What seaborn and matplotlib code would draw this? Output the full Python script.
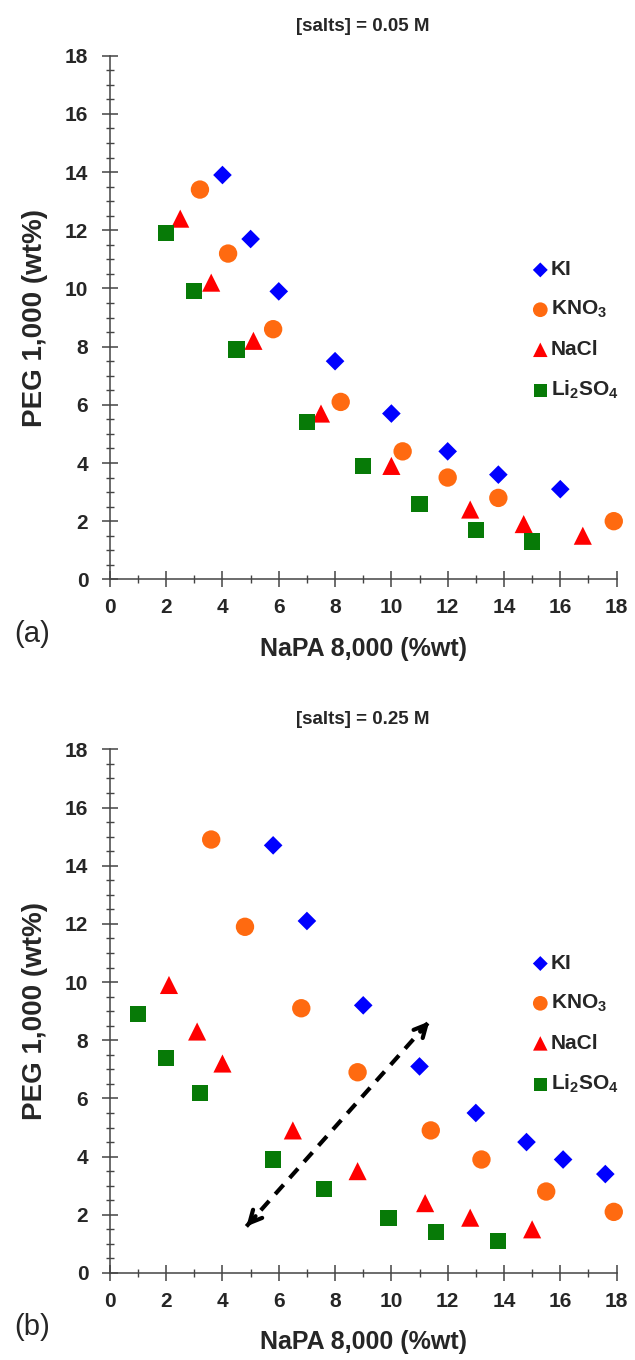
import matplotlib
matplotlib.use("Agg")
import matplotlib.pyplot as plt
from matplotlib.ticker import MultipleLocator
import pandas as pd
import seaborn as sns

# data (NaPA %wt, PEG %wt)
salts = ["KI", "KNO3", "NaCl", "Li2SO4"]
salt_labels = ["KI", "KNO$_3$", "NaCl", "Li$_2$SO$_4$"]

a_ki_x = [4, 5, 6, 8, 10, 12, 13.8, 16]
a_ki_y = [13.9, 11.7, 9.9, 7.5, 5.7, 4.4, 3.6, 3.1]
a_kno3_x = [3.2, 4.2, 5.8, 8.2, 10.4, 12, 13.8, 17.9]
a_kno3_y = [13.4, 11.2, 8.6, 6.1, 4.4, 3.5, 2.8, 2.0]
a_nacl_x = [2.5, 3.6, 5.1, 7.5, 10, 12.8, 14.7, 16.8]
a_nacl_y = [12.4, 10.2, 8.2, 5.7, 3.9, 2.4, 1.9, 1.5]
a_li_x = [2, 3, 4.5, 7, 9, 11, 13, 15]
a_li_y = [11.9, 9.9, 7.9, 5.4, 3.9, 2.6, 1.7, 1.3]

b_ki_x = [5.8, 7, 9, 11, 13, 14.8, 16.1, 17.6]
b_ki_y = [14.7, 12.1, 9.2, 7.1, 5.5, 4.5, 3.9, 3.4]
b_kno3_x = [3.6, 4.8, 6.8, 8.8, 11.4, 13.2, 15.5, 17.9]
b_kno3_y = [14.9, 11.9, 9.1, 6.9, 4.9, 3.9, 2.8, 2.1]
b_nacl_x = [2.1, 3.1, 4, 6.5, 8.8, 11.2, 12.8, 15]
b_nacl_y = [9.9, 8.3, 7.2, 4.9, 3.5, 2.4, 1.9, 1.5]
b_li_x = [1, 2, 3.2, 5.8, 7.6, 9.9, 11.6, 13.8]
b_li_y = [8.9, 7.4, 6.2, 3.9, 2.9, 1.9, 1.4, 1.1]

# double arrow in panel (b)
arrow_start = (4.85, 1.6)
arrow_end = (11.35, 8.65)

titles = ["[salts] = 0.05 M", "[salts] = 0.25 M"]
panel_tags = ["(a)", "(b)"]

colors = {"KI": "#0000FF", "KNO3": "#FF6A10", "NaCl": "#FF0000", "Li2SO4": "#077A07"}
markers = {"KI": "D", "KNO3": "o", "NaCl": "^", "Li2SO4": "s"}
sizes = {"KI": 90, "KNO3": 175, "NaCl": 170, "Li2SO4": 135}


def make_df(xs, ys):
    rows = []
    for salt, x, y in zip(salts, xs, ys):
        for xi, yi in zip(x, y):
            rows.append({"salt": salt, "napa": xi, "peg": yi})
    return pd.DataFrame(rows)


df_a = make_df([a_ki_x, a_kno3_x, a_nacl_x, a_li_x], [a_ki_y, a_kno3_y, a_nacl_y, a_li_y])
df_b = make_df([b_ki_x, b_kno3_x, b_nacl_x, b_li_x], [b_ki_y, b_kno3_y, b_nacl_y, b_li_y])

sns.set_style("ticks")
plt.rcParams["font.family"] = ["Liberation Sans", "DejaVu Sans"]
plt.rcParams["mathtext.fontset"] = "custom"
plt.rcParams["mathtext.rm"] = "Liberation Sans:bold"
plt.rcParams["mathtext.default"] = "rm"

fig = plt.figure(figsize=(6.35, 13.6), dpi=100)
ax_a = fig.add_axes([0.173, 0.574, 0.798, 0.385])
ax_b = fig.add_axes([0.173, 0.064, 0.798, 0.385])

for ax, df, title in [(ax_a, df_a, titles[0]), (ax_b, df_b, titles[1])]:
    for salt, lab in zip(salts, salt_labels):
        d = df[df["salt"] == salt]
        sns.scatterplot(data=d, x="napa", y="peg", ax=ax, marker=markers[salt],
                        color=colors[salt], s=sizes[salt], edgecolor="none",
                        label=lab, clip_on=False, zorder=3)
    ax.set_xlim(0, 18)
    ax.set_ylim(0, 18)
    ax.xaxis.set_major_locator(MultipleLocator(2))
    ax.xaxis.set_minor_locator(MultipleLocator(1))
    ax.yaxis.set_major_locator(MultipleLocator(2))
    ax.yaxis.set_minor_locator(MultipleLocator(0.5))
    ax.tick_params(which="major", direction="inout", length=11, width=1.1, color="#444444")
    ax.tick_params(which="minor", direction="inout", length=6, width=1.0, color="#444444")
    ax.tick_params(axis="y", which="major", pad=10)
    ax.tick_params(axis="x", which="major", pad=8)
    for s in ["top", "right"]:
        ax.spines[s].set_visible(False)
    for s in ["left", "bottom"]:
        ax.spines[s].set_color("#444444")
        ax.spines[s].set_linewidth(1.1)
    for lbl in ax.get_xticklabels() + ax.get_yticklabels():
        lbl.set_fontweight("bold")
        lbl.set_fontsize(15)
    ax.set_xlabel("NaPA 8,000 (%wt)", fontsize=18, fontweight="bold", labelpad=14)
    ax.set_ylabel("PEG 1,000 (wt%)", fontsize=20, fontweight="bold", labelpad=12)
    ax.set_title(title, fontsize=13.5, fontweight="bold", pad=18)
    ax.legend(loc="upper left", bbox_to_anchor=(0.796, 0.645), frameon=False,
              handletextpad=0.1, labelspacing=0.95, handlelength=0.8,
              prop={"weight": "bold", "size": 15}, markerscale=0.8)

fig.text(0.022, 0.534, panel_tags[0], fontsize=21, va="center")
fig.text(0.022, 0.024, panel_tags[1], fontsize=21, va="center")

# dashed double-headed arrow on panel (b)
ax_b.plot([arrow_start[0], arrow_end[0]], [arrow_start[1], arrow_end[1]],
          ls=(0, (3, 2.2)), lw=3, color="black", zorder=2)
for tip, tail in [(arrow_end, arrow_start), (arrow_start, arrow_end)]:
    ax_b.annotate("", xy=tip, xytext=(tip[0] + (tail[0] - tip[0]) * 0.05, tip[1] + (tail[1] - tip[1]) * 0.05),
                  arrowprops=dict(arrowstyle="->", lw=3, color="black", mutation_scale=22, shrinkA=0, shrinkB=0))

fig.savefig("out.png", dpi=100)
